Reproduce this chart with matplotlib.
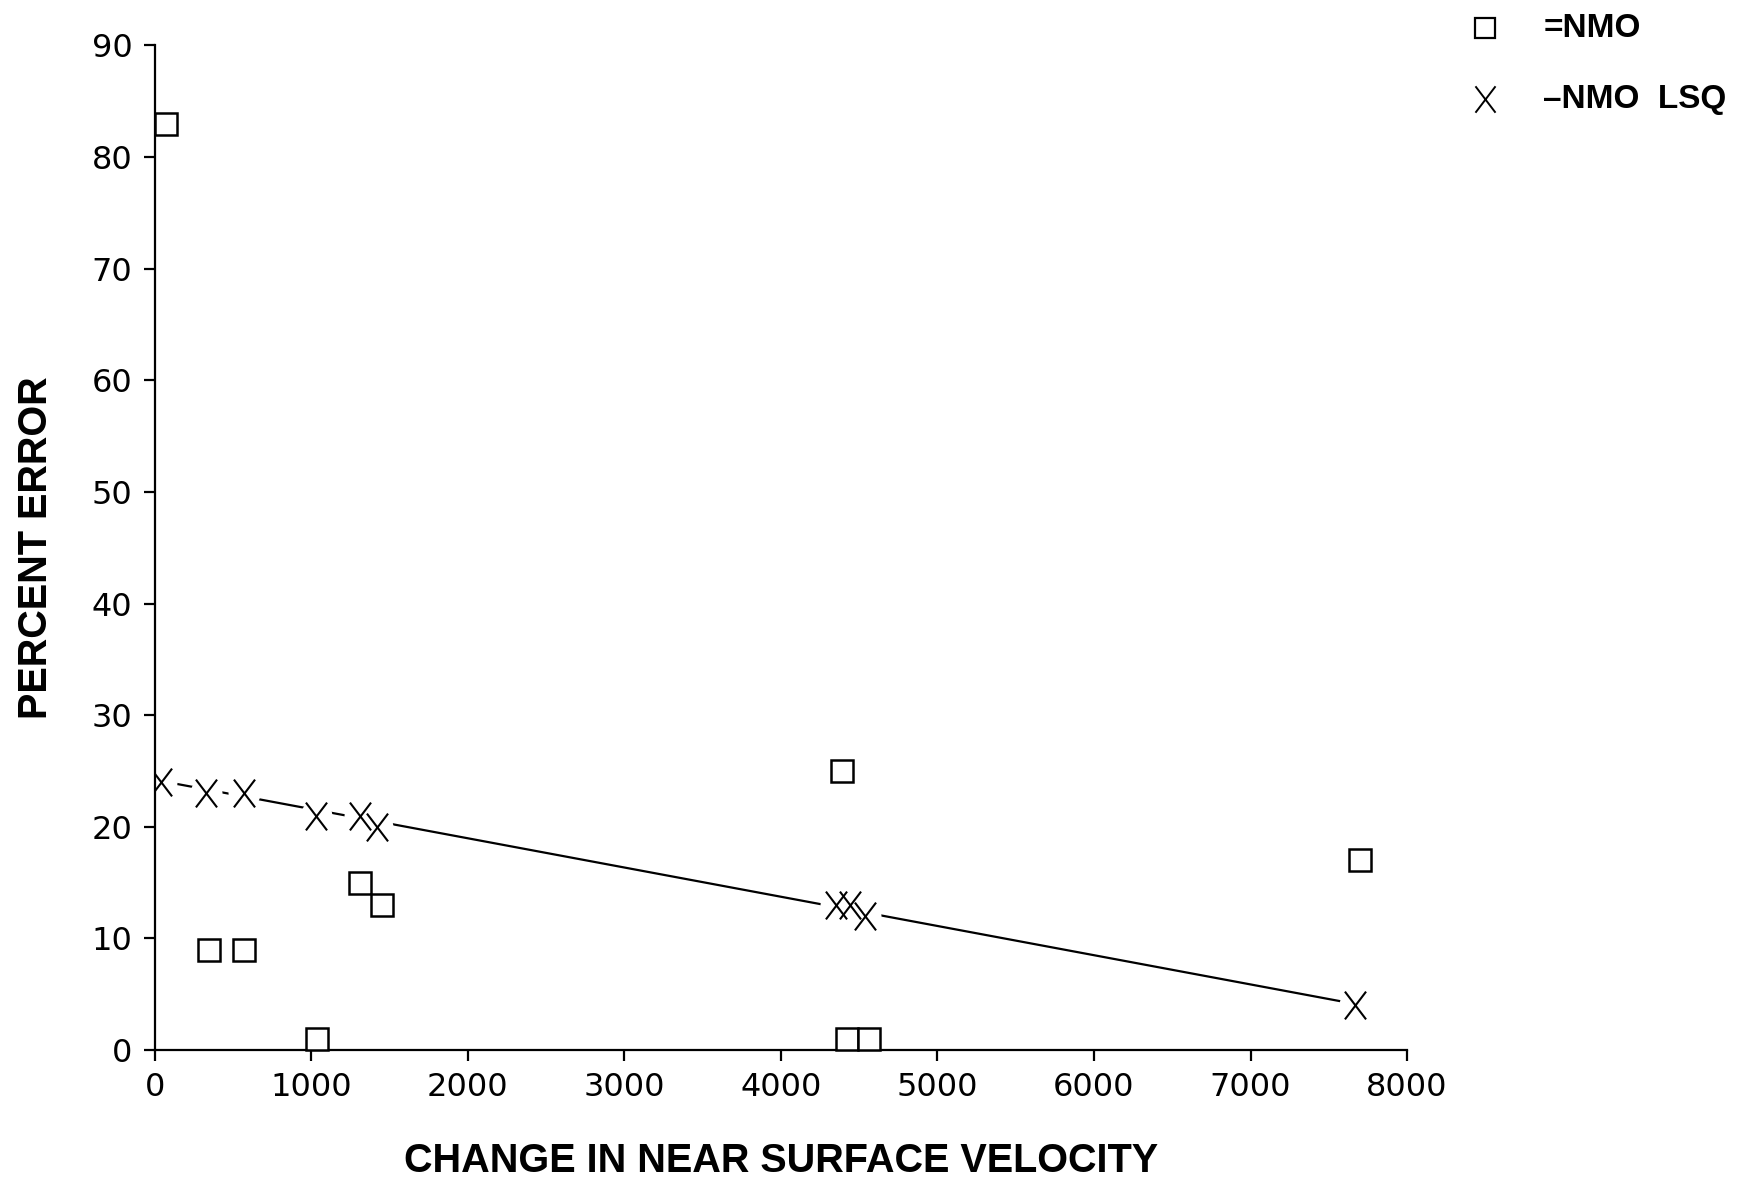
import matplotlib.pyplot as plt
from matplotlib.lines import Line2D
from matplotlib.path import Path

# NMO (squares)
nmo_x = [70, 350, 570, 1040, 1310, 1450, 4390, 4420, 4560, 7700]
nmo_y = [83, 9, 9, 1, 15, 13, 25, 1, 1, 17]

# NMO LSQ (crosses)
lsq_x = [40, 330, 570, 1030, 1310, 1420, 4350, 4440, 4540, 7670]
lsq_y = [24, 23, 23, 21, 21, 20, 13, 13, 12, 4]

# least squares line as drawn
fit_x = [40, 7600]
fit_y = [24.1, 4.3]

plt.rcParams['font.family'] = ['DejaVu Sans']

# letter-like X marker, taller than wide
xmark = Path([(-0.38, -0.5), (0.38, 0.5), (-0.38, 0.5), (0.38, -0.5)],
             [Path.MOVETO, Path.LINETO, Path.MOVETO, Path.LINETO])

fig = plt.figure(figsize=(17.38, 11.86), dpi=100)
ax = fig.add_axes([0.089, 0.1147, 0.7206, 0.847])

ax.plot(fit_x, fit_y, color='black', lw=1.6, zorder=1)
ax.plot(lsq_x, lsq_y, linestyle='none', marker='o', ms=23, mfc='white', mec='none', zorder=2)
ax.plot(lsq_x, lsq_y, linestyle='none', marker=xmark, ms=20, mew=1.5, color='black', zorder=3)
ax.plot(nmo_x, nmo_y, linestyle='none', marker='s', ms=16, mfc='white', mec='black',
        mew=1.8, zorder=4, clip_on=False)

ax.set_xlim(0, 8000)
ax.set_ylim(0, 90)
ax.set_xticks(range(0, 8001, 1000))
ax.set_yticks(range(0, 91, 10))
for s in ['top', 'right']:
    ax.spines[s].set_visible(False)
for s in ['left', 'bottom']:
    ax.spines[s].set_linewidth(1.6)
ax.tick_params(labelsize=23, length=8, width=1.6, pad=8)

ax.set_xlabel('CHANGE IN NEAR SURFACE VELOCITY', fontsize=28.5, fontweight='bold',
              family='Liberation Sans', labelpad=28)
ax.set_ylabel('PERCENT ERROR', fontsize=28.5, fontweight='bold',
              family='Liberation Sans', labelpad=26)

# legend
fig.add_artist(Line2D([0.8545], [0.976], transform=fig.transFigure, marker='s', ms=15,
                      mfc='white', mec='black', mew=1.6, linestyle='none'))
fig.add_artist(Line2D([0.8545], [0.9165], transform=fig.transFigure, marker=xmark, ms=19,
                      mew=1.4, color='black', linestyle='none'))
fig.text(0.888, 0.976, '=NMO', fontsize=24, fontweight='bold', family='Liberation Sans',
         va='center', ha='left')
fig.text(0.888, 0.9165, '\u2013NMO  LSQ', fontsize=24, fontweight='bold', family='Liberation Sans',
         va='center', ha='left')

fig.savefig('out.png', dpi=100)
